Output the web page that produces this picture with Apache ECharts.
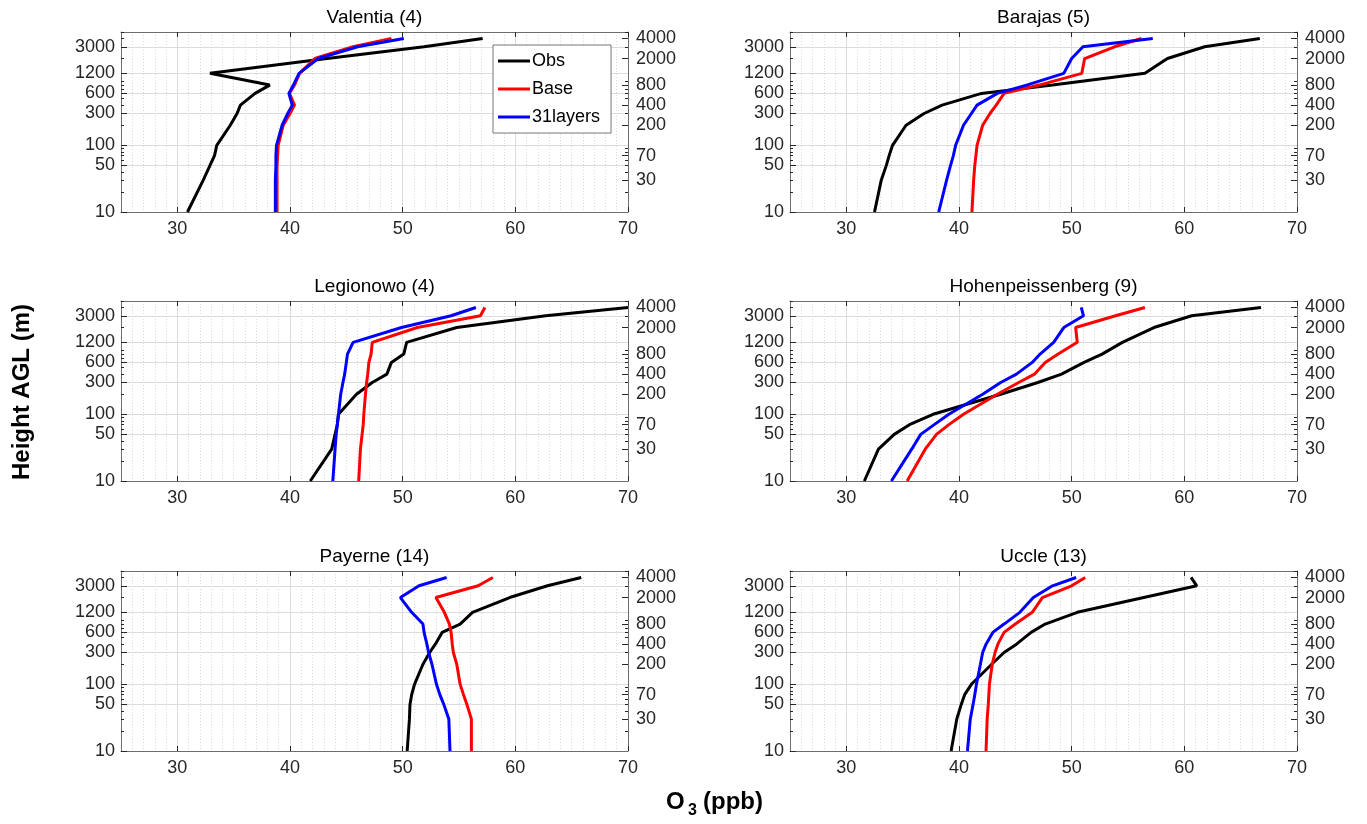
<!DOCTYPE html>
<html><head><meta charset="utf-8">
<script src="https://cdn.jsdelivr.net/npm/echarts@6/dist/echarts.min.js"></script>
<style>html,body{margin:0;padding:0;background:#fff}#c{width:1367px;height:824px}</style>
</head><body><div id="c"></div>
<script>
// ---------- data ----------
const heights = [10, 30, 50, 70, 100, 200, 300, 400, 600, 800, 1200, 2000, 3000, 4000];
const stations = ['Valentia (4)', 'Barajas (5)', 'Legionowo (4)', 'Hohenpeissenberg (9)', 'Payerne (14)', 'Uccle (13)'];
const seriesNames = ['Obs', 'Base', '31layers'];
const xTicks = [30, 40, 50, 60, 70];
const yTicksLeft = [10, 50, 100, 300, 600, 1200, 3000];
const yTicksRight = [30, 70, 200, 400, 800, 2000, 4000];
const yMinorTicks = [20, 30, 40, 50, 60, 70, 80, 90, 200, 300, 400, 500, 600, 700, 800, 900, 2000, 3000, 4000, 5000];

const valentiaObs  = [30.9, 32.3, 32.9, 33.3, 33.5, 34.7, 35.3, 35.6, 36.9, 38.2, 32.9, 43.3, 51.9, 57.1];
const valentiaBase = [38.85, 38.85, 38.85, 38.9, 38.95, 39.4, 40.0, 40.4, 39.95, 40.4, 40.85, 42.2, 45.6, 49.0];
const valentia31   = [38.7, 38.7, 38.75, 38.75, 38.8, 39.3, 39.8, 40.2, 39.9, 40.3, 40.8, 42.5, 46.0, 50.1];

const barajasObs  = [32.5, 33.1, 33.55, 33.8, 34.1, 35.3, 36.9, 38.5, 42.0, 48.3, 56.5, 58.5, 61.8, 66.7];
const barajasBase = [41.15, 41.3, 41.4, 41.5, 41.6, 42.1, 42.75, 43.3, 44.0, 47.1, 50.9, 51.15, 53.8, 56.2];
const barajas31   = [38.2, 38.9, 39.25, 39.5, 39.7, 40.4, 41.1, 41.6, 43.4, 46.0, 49.3, 50.0, 51.0, 57.2];

const legionowoObs  = [41.8, 43.7, 44.0, 44.2, 44.3, 45.9, 47.3, 48.6, 49.0, 50.1, 50.35, 54.8, 62.7, 70.0];
const legionowoBase = [46.1, 46.25, 46.4, 46.5, 46.55, 46.7, 46.8, 46.9, 47.0, 47.2, 47.3, 51.3, 56.9, 57.3];
const legionowo31   = [43.8, 44.0, 44.1, 44.2, 44.3, 44.5, 44.7, 44.85, 45.0, 45.1, 45.6, 49.9, 54.3, 56.5];

const hohenObs  = [31.6, 32.85, 34.25, 35.6, 37.7, 43.7, 47.0, 49.1, 51.1, 52.7, 54.5, 57.3, 60.65, 66.8];
const hohenBase = [35.4, 37.0, 38.0, 39.1, 40.4, 43.4, 45.3, 46.7, 47.65, 48.8, 50.5, 50.35, 53.9, 56.5];
const hohen31   = [34.0, 35.8, 36.6, 37.8, 39.1, 42.1, 43.7, 45.1, 46.5, 47.2, 48.4, 49.3, 51.05, 50.85];

const payerneObs  = [50.4, 50.6, 50.65, 50.8, 51.05, 51.8, 52.4, 52.9, 53.5, 55.1, 56.2, 59.5, 62.85, 65.85];
const payerneBase = [56.1, 56.1, 55.7, 55.4, 55.1, 54.8, 54.5, 54.4, 54.3, 54.15, 53.7, 52.95, 56.7, 58.0];
const payerne31   = [54.2, 54.1, 53.65, 53.3, 53.0, 52.6, 52.3, 52.15, 51.9, 51.8, 50.8, 49.8, 51.45, 53.9];

const uccleObs  = [39.3, 39.8, 40.2, 40.5, 41.1, 42.9, 44.0, 45.1, 46.4, 47.65, 50.5, 56.4, 61.1, 60.6];
const uccleBase = [42.4, 42.5, 42.6, 42.65, 42.7, 42.95, 43.2, 43.45, 44.0, 45.0, 46.5, 47.4, 50.0, 51.2];
const uccle31   = [40.75, 41.0, 41.25, 41.4, 41.55, 41.9, 42.1, 42.4, 43.0, 44.0, 45.4, 46.6, 48.3, 50.4];

const panelValues = [
  [valentiaObs, valentiaBase, valentia31],
  [barajasObs, barajasBase, barajas31],
  [legionowoObs, legionowoBase, legionowo31],
  [hohenObs, hohenBase, hohen31],
  [payerneObs, payerneBase, payerne31],
  [uccleObs, uccleBase, uccle31]
];

// ---------- layout / style ----------
const FONT = "'Liberation Sans', Arial, Helvetica, sans-serif";
const colors = ['#000000', '#ff0000', '#0000ff'];
const colLeft = [121, 790];
const plotW = 507;
const rowTop = [32, 301, 571];
const plotH = 180;
const axisColor = '#6e6e6e';
const textColor = '#262626';
const TICK_FS = 18;
const plain = function (v) { return String(v); };

const grids = [], xAxes = [], yAxes = [], series = [], graphics = [];

for (let g = 0; g < 6; g++) {
  const col = g % 2, row = Math.floor(g / 2);
  const left = colLeft[col], top = rowTop[row];
  grids.push({ left: left, top: top, width: plotW, height: plotH });

  // main bottom x axis
  xAxes.push({
    type: 'value', gridIndex: g, position: 'bottom', min: 25, max: 70,
    axisLine: { show: true, onZero: false, lineStyle: { color: axisColor, width: 1 } },
    axisTick: { show: true, inside: true, length: 5, customValues: xTicks, lineStyle: { color: textColor } },
    axisLabel: { customValues: xTicks, formatter: plain, color: textColor, fontSize: TICK_FS, fontFamily: FONT, margin: 8 },
    splitLine: { show: true, lineStyle: { color: '#dcdcdc', width: 1 } }
  });
  // top axis: box line + minor dotted grid every 1 unit
  xAxes.push({
    type: 'value', gridIndex: g, position: 'top', min: 25, max: 70, interval: 1,
    axisLine: { show: true, onZero: false, lineStyle: { color: axisColor, width: 1 } },
    axisTick: { show: false }, axisLabel: { show: false },
    splitLine: { show: true, lineStyle: { color: '#d9d9d9', width: 1, type: [1, 2] } }
  });
  // top ticks
  xAxes.push({
    type: 'value', gridIndex: g, position: 'top', min: 25, max: 70,
    axisLine: { show: false },
    axisTick: { show: true, inside: true, length: 5, customValues: xTicks, lineStyle: { color: textColor } },
    axisLabel: { show: false }, splitLine: { show: false }
  });

  // left main y axis
  yAxes.push({
    type: 'log', logBase: 10, gridIndex: g, position: 'left', min: 10, max: 5000,
    axisLine: { show: true, onZero: false, lineStyle: { color: axisColor, width: 1 } },
    axisTick: { show: true, inside: true, length: 6, customValues: yTicksLeft, lineStyle: { color: textColor } },
    axisLabel: { customValues: yTicksLeft, formatter: plain, color: textColor, fontSize: TICK_FS, fontFamily: FONT, margin: 6 },
    splitLine: { show: true, lineStyle: { color: '#dcdcdc', width: 1 } },
    minorTick: { show: false }, minorSplitLine: { show: false }
  });
  // right main y axis
  yAxes.push({
    type: 'log', logBase: 10, gridIndex: g, position: 'right', min: 10, max: 5000,
    axisLine: { show: true, onZero: false, lineStyle: { color: axisColor, width: 1 } },
    axisTick: { show: true, inside: true, length: 6, customValues: yTicksRight, lineStyle: { color: textColor } },
    axisLabel: { customValues: yTicksRight, formatter: plain, color: textColor, fontSize: TICK_FS, fontFamily: FONT, margin: 8 },
    splitLine: { show: false }
  });
  // minor ticks left / right
  ['left', 'right'].forEach(function (pos) {
    yAxes.push({
      type: 'log', logBase: 10, gridIndex: g, position: pos, min: 10, max: 5000,
      axisLine: { show: false },
      axisTick: { show: true, inside: true, length: 3, customValues: yMinorTicks, lineStyle: { color: textColor } },
      axisLabel: { show: false }, splitLine: { show: false }
    });
  });

  // series
  for (let s = 0; s < 3; s++) {
    const vals = panelValues[g][s];
    series.push({
      type: 'line', name: seriesNames[s], xAxisIndex: 3 * g, yAxisIndex: 4 * g,
      data: heights.map(function (h, i) { return [vals[i], h]; }),
      symbol: 'none', showSymbol: false, clip: true, silent: true,
      color: colors[s],
      lineStyle: { color: colors[s], width: 3 },
      z: 3 + s
    });
  }

  // panel title
  graphics.push({
    type: 'text', x: left + plotW / 2, y: top - 14,
    style: { text: stations[g], font: '19px ' + FONT, fill: '#000', textAlign: 'center', textVerticalAlign: 'middle', align: 'center', verticalAlign: 'middle' }
  });
}

// axis titles
graphics.push({
  type: 'text', x: 22, y: 392, rotation: Math.PI / 2,
  style: { text: 'Height AGL (m)', font: 'bold 24px ' + FONT, fill: '#000', textAlign: 'center', textVerticalAlign: 'middle', align: 'center', verticalAlign: 'middle' }
});
graphics.push({
  type: 'text', x: 666, y: 802,
  style: { text: 'O', font: 'bold 24px ' + FONT, fill: '#000', textAlign: 'left', textVerticalAlign: 'middle', align: 'left', verticalAlign: 'middle' }
});
graphics.push({
  type: 'text', x: 688, y: 811,
  style: { text: '3', font: 'bold 16px ' + FONT, fill: '#000', textAlign: 'left', textVerticalAlign: 'middle', align: 'left', verticalAlign: 'middle' }
});
graphics.push({
  type: 'text', x: 703, y: 802,
  style: { text: '(ppb)', font: 'bold 24px ' + FONT, fill: '#000', textAlign: 'left', textVerticalAlign: 'middle', align: 'left', verticalAlign: 'middle' }
});

const chart = echarts.init(document.getElementById('c'), null, { renderer: 'canvas' });
chart.setOption({
  animation: false,
  backgroundColor: '#ffffff',
  grid: grids,
  xAxis: xAxes,
  yAxis: yAxes,
  legend: {
    data: seriesNames, orient: 'vertical', left: 493, top: 45,
    icon: 'rect', itemWidth: 32, itemHeight: 3, itemGap: 10,
    padding: [7, 11, 7, 5], borderColor: '#777', borderWidth: 1, backgroundColor: '#fff',
    selectedMode: false,
    textStyle: { fontSize: TICK_FS, fontFamily: FONT, color: '#000', padding: [0, 0, 0, -3] }
  },
  series: series,
  graphic: graphics
});
</script>
</body></html>
